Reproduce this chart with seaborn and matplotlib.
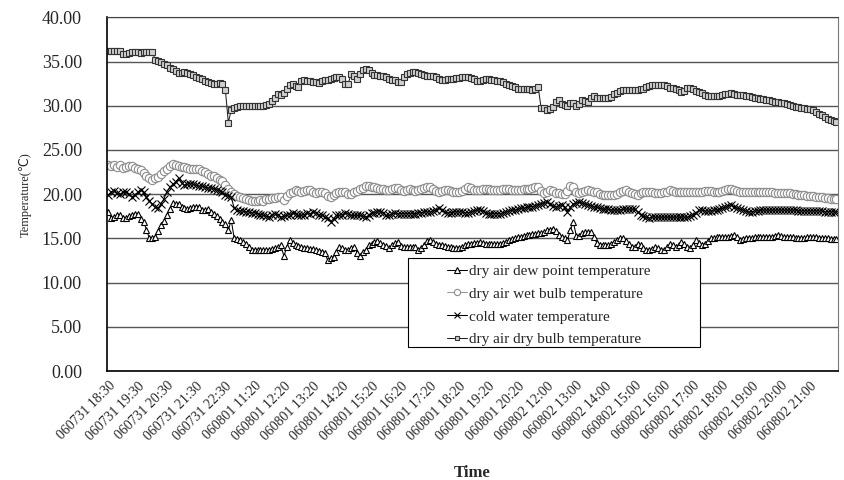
import numpy as np
import pandas as pd
import matplotlib
matplotlib.use("Agg")
import matplotlib.pyplot as plt
import seaborn as sns
from matplotlib.patches import Rectangle
from matplotlib.ticker import FixedLocator, FormatStrFormatter

# tick labels shown every 10 samples
tick_labels = [
    "060731 18:30", "060731 19:30", "060731 20:30", "060731 21:30", "060731 22:30",
    "060801 11:20", "060801 12:20", "060801 13:20", "060801 14:20", "060801 15:20",
    "060801 16:20", "060801 17:20", "060801 18:20", "060801 19:20", "060801 20:20",
    "060802 12:00", "060802 13:00", "060802 14:00", "060802 15:00", "060802 16:00",
    "060802 17:00", "060802 18:00", "060802 19:00", "060802 20:00", "060802 21:00",
]

# one row per label interval (10 samples each)
dew_point = [
    18.0, 17.3, 17.4, 17.6, 17.6, 17.3, 17.3, 17.5, 17.6, 17.8,
    17.8, 17.2, 16.9, 16.0, 15.0, 15.0, 15.2, 15.8, 16.5, 17.0,
    17.6, 18.3, 19.0, 18.9, 18.9, 18.6, 18.4, 18.3, 18.4, 18.5,
    18.6, 18.5, 18.2, 18.2, 18.3, 18.0, 17.8, 17.5, 17.2, 16.9,
    16.6, 15.9, 17.1, 15.0, 14.9, 14.8, 14.6, 14.4, 14.0, 13.7,
    13.7, 13.7, 13.7, 13.7, 13.7, 13.7, 13.8, 13.9, 14.0, 14.2,
    13.0, 14.0, 14.8, 14.5, 14.2, 14.1, 14.0, 13.9, 13.9, 13.8,
    13.8, 13.7, 13.6, 13.5, 13.4, 12.5, 12.8, 12.9, 13.5, 14.0,
    13.9, 13.7, 13.7, 13.9, 14.0, 13.4, 13.0, 13.5, 13.7, 14.2,
    14.4, 14.6, 14.7, 14.5, 14.2, 14.1, 13.9, 14.2, 14.5, 14.6,
    14.1, 14.0, 14.0, 14.0, 14.0, 14.0, 13.7, 13.9, 14.2, 14.7,
    14.8, 14.6, 14.4, 14.3, 14.2, 14.1, 14.0, 14.0, 13.9, 13.9,
    13.9, 14.0, 14.2, 14.4, 14.4, 14.5, 14.5, 14.6, 14.5, 14.4,
    14.4, 14.4, 14.4, 14.4, 14.4, 14.5, 14.6, 14.8, 14.9, 15.0,
    15.1, 15.2, 15.3, 15.4, 15.4, 15.5, 15.5, 15.6, 15.6, 15.7,
    15.9, 16.0, 16.1, 15.8, 15.4, 15.2, 15.0, 14.8, 15.9, 16.9,
    15.3, 15.3, 15.6, 15.7, 15.7, 15.7, 15.2, 14.5, 14.3, 14.2,
    14.2, 14.2, 14.4, 14.6, 14.8, 15.0, 15.0, 14.7, 14.4, 14.0,
    14.0, 14.4, 14.2, 13.9, 13.7, 13.7, 13.8, 14.0, 13.9, 13.7,
    13.7, 14.0, 14.4, 14.2, 14.0, 14.3, 14.6, 14.4, 14.0, 13.9,
    14.3, 14.8, 14.5, 14.2, 14.4, 14.7, 15.0, 15.0, 15.1, 15.1,
    15.1, 15.1, 15.2, 15.3, 15.4, 15.2, 14.8, 14.9, 15.0, 15.0,
    15.0, 15.1, 15.1, 15.1, 15.1, 15.1, 15.1, 15.2, 15.3, 15.4,
    15.3, 15.2, 15.1, 15.1, 15.1, 15.0, 15.0, 15.0, 15.0, 15.1,
    15.1, 15.1, 15.1, 15.0, 15.0, 15.0, 15.0, 14.9, 14.9, 14.9,
]

wet_bulb = [
    23.3, 23.2, 23.3, 23.1, 23.3, 23.0, 23.1, 23.2, 23.2, 23.0,
    22.9, 22.7, 22.4, 22.1, 21.8, 21.6, 21.8, 21.9, 22.3, 22.6,
    22.9, 23.2, 23.4, 23.3, 23.2, 23.1, 23.1, 23.0, 22.9, 22.9,
    22.8, 22.8, 22.6, 22.5, 22.3, 22.1, 22.0, 21.8, 21.6, 21.5,
    21.0, 20.6, 20.3, 20.0, 19.8, 19.7, 19.6, 19.4, 19.3, 19.2,
    19.2, 19.2, 19.3, 19.2, 19.4, 19.5, 19.6, 19.6, 19.7, 19.7,
    19.3, 19.8, 20.1, 20.3, 20.5, 20.4, 20.3, 20.4, 20.5, 20.5,
    20.3, 20.1, 20.2, 20.3, 20.1, 19.8, 19.7, 19.9, 20.1, 20.2,
    20.3, 20.2, 20.0, 20.0, 20.2, 20.4, 20.6, 20.7, 20.9, 20.9,
    20.8, 20.8, 20.7, 20.6, 20.6, 20.5, 20.5, 20.6, 20.7, 20.7,
    20.5, 20.4, 20.5, 20.6, 20.5, 20.4, 20.5, 20.6, 20.7, 20.8,
    20.8, 20.6, 20.4, 20.3, 20.4, 20.5, 20.5, 20.4, 20.3, 20.3,
    20.3, 20.4, 20.6, 20.8, 20.7, 20.5, 20.5, 20.5, 20.6, 20.6,
    20.6, 20.5, 20.5, 20.5, 20.5, 20.6, 20.6, 20.6, 20.5, 20.5,
    20.5, 20.5, 20.6, 20.6, 20.6, 20.7, 20.8, 20.8, 20.4, 20.1,
    20.3, 20.5, 20.4, 20.1, 20.1, 20.0, 20.0, 20.4, 20.9, 20.8,
    20.3, 20.1, 20.2, 20.4, 20.5, 20.4, 20.3, 20.2, 20.0, 19.9,
    19.9, 19.9, 19.9, 19.9, 20.0, 20.2, 20.4, 20.5, 20.3, 20.1,
    20.0, 19.9, 20.1, 20.2, 20.3, 20.3, 20.2, 20.1, 20.1, 20.1,
    20.2, 20.3, 20.5, 20.4, 20.3, 20.2, 20.2, 20.3, 20.3, 20.3,
    20.3, 20.3, 20.3, 20.3, 20.4, 20.4, 20.4, 20.3, 20.3, 20.3,
    20.4, 20.5, 20.6, 20.6, 20.5, 20.4, 20.3, 20.3, 20.2, 20.2,
    20.2, 20.2, 20.3, 20.3, 20.3, 20.2, 20.2, 20.2, 20.1, 20.1,
    20.1, 20.1, 20.1, 20.1, 20.0, 20.0, 19.9, 19.9, 19.9, 19.8,
    19.8, 19.8, 19.7, 19.7, 19.7, 19.6, 19.6, 19.5, 19.5, 19.5,
]

cold_water = [
    19.9, 20.3, 20.4, 20.1, 20.0, 20.2, 20.2, 20.0, 19.7, 19.9,
    20.2, 20.5, 20.2, 19.7, 19.2, 18.9, 18.5, 18.4, 18.9, 19.5,
    20.3, 20.8, 21.1, 21.4, 21.8, 21.3, 21.0, 21.1, 21.2, 21.1,
    21.0, 20.9, 20.9, 20.8, 20.7, 20.7, 20.6, 20.5, 20.4, 20.2,
    19.9, 19.8, 19.7, 18.4, 18.2, 18.1, 18.1, 18.0, 18.0, 17.9,
    17.9, 17.8, 17.7, 17.6, 17.5, 17.4, 17.7, 17.8, 17.6, 17.4,
    17.5, 17.6, 17.7, 17.9, 17.8, 17.6, 17.6, 17.7, 17.9, 17.8,
    18.0, 17.9, 17.7, 17.6, 17.4, 17.3, 16.9, 17.2, 17.6, 17.6,
    17.7, 17.9, 17.8, 17.6, 17.6, 17.6, 17.6, 17.5, 17.4, 17.6,
    17.9, 17.9, 18.0, 18.0, 17.9, 17.6, 17.6, 17.8, 17.9, 17.8,
    17.8, 17.8, 17.8, 17.8, 17.8, 17.8, 17.9, 17.9, 18.0, 18.0,
    18.0, 18.1, 18.2, 18.4, 18.2, 18.0, 17.9, 17.9, 18.0, 18.0,
    18.0, 18.0, 17.9, 17.9, 18.0, 18.1, 18.2, 18.2, 18.1, 17.9,
    17.8, 17.8, 17.8, 17.8, 17.8, 17.9, 18.0, 18.1, 18.2, 18.2,
    18.3, 18.4, 18.4, 18.5, 18.6, 18.6, 18.7, 18.8, 18.9, 19.0,
    19.1, 18.9, 18.7, 18.6, 18.7, 18.8, 18.5, 18.0, 18.5, 18.9,
    19.0, 19.1, 19.0, 18.9, 18.8, 18.7, 18.6, 18.5, 18.4, 18.3,
    18.3, 18.3, 18.2, 18.2, 18.2, 18.2, 18.3, 18.3, 18.3, 18.3,
    18.3, 18.0, 17.7, 17.5, 17.4, 17.3, 17.4, 17.4, 17.4, 17.4,
    17.4, 17.4, 17.4, 17.4, 17.4, 17.4, 17.4, 17.4, 17.4, 17.5,
    17.7, 17.9, 18.2, 18.2, 18.1, 18.1, 18.1, 18.2, 18.2, 18.3,
    18.4, 18.5, 18.7, 18.8, 18.6, 18.4, 18.3, 18.2, 18.1, 18.0,
    18.0, 18.1, 18.1, 18.2, 18.2, 18.2, 18.2, 18.2, 18.2, 18.2,
    18.2, 18.2, 18.2, 18.2, 18.2, 18.2, 18.1, 18.1, 18.1, 18.1,
    18.1, 18.1, 18.1, 18.1, 18.1, 18.0, 18.0, 18.0, 18.0, 18.0,
]

dry_bulb = [
    36.2, 36.2, 36.2, 36.2, 36.2, 35.9, 35.9, 36.0, 36.1, 36.1,
    36.1, 36.0, 36.1, 36.1, 36.1, 36.1, 35.2, 35.1, 34.9, 34.7,
    34.6, 34.3, 34.1, 33.9, 33.7, 33.7, 33.8, 33.7, 33.6, 33.5,
    33.3, 33.1, 33.0, 32.8, 32.7, 32.6, 32.5, 32.5, 32.6, 32.4,
    31.8, 28.1, 29.5, 29.7, 29.9, 30.0, 30.0, 30.0, 30.0, 30.0,
    30.0, 30.0, 30.0, 30.0, 30.1, 30.2, 30.5, 30.9, 31.3, 31.2,
    31.4, 31.9, 32.3, 32.5, 32.2, 32.1, 32.8, 32.9, 32.8, 32.8,
    32.7, 32.7, 32.6, 32.8, 32.9, 32.9, 33.0, 33.1, 33.3, 33.2,
    33.0, 32.5, 32.5, 33.6, 33.4, 33.0, 33.6, 34.0, 34.2, 34.0,
    33.7, 33.5, 33.5, 33.4, 33.4, 33.2, 33.0, 32.9, 32.9, 32.7,
    32.7, 33.2, 33.6, 33.7, 33.8, 33.8, 33.7, 33.6, 33.5, 33.4,
    33.4, 33.4, 33.2, 33.0, 32.9, 32.9, 33.0, 33.0, 33.0, 33.1,
    33.1, 33.2, 33.3, 33.3, 33.1, 33.0, 32.8, 32.8, 32.9, 33.0,
    33.0, 32.9, 32.9, 32.8, 32.8, 32.7, 32.5, 32.3, 32.2, 32.1,
    31.9, 31.9, 31.9, 31.9, 31.9, 31.8, 31.9, 32.1, 29.7, 29.7,
    29.5, 29.6, 29.9, 30.4, 30.6, 30.2, 30.1, 30.0, 30.3, 30.3,
    30.0, 30.2, 30.6, 30.5, 30.4, 30.9, 31.1, 30.9, 30.9, 30.9,
    30.9, 30.9, 31.0, 31.3, 31.4, 31.7, 31.8, 31.8, 31.8, 31.8,
    31.8, 31.8, 31.9, 31.9, 32.1, 32.2, 32.3, 32.3, 32.3, 32.3,
    32.3, 32.2, 32.0, 32.0, 31.9, 31.8, 31.6, 31.7, 32.0, 32.0,
    31.9, 31.7, 31.5, 31.4, 31.2, 31.1, 31.1, 31.1, 31.1, 31.1,
    31.2, 31.3, 31.3, 31.4, 31.3, 31.2, 31.2, 31.2, 31.1, 31.1,
    31.0, 30.9, 30.9, 30.8, 30.8, 30.7, 30.6, 30.5, 30.4, 30.4,
    30.3, 30.3, 30.2, 30.1, 30.0, 29.9, 29.8, 29.7, 29.7, 29.6,
    29.6, 29.5, 29.3, 29.1, 28.9, 28.7, 28.5, 28.4, 28.3, 28.2,
]

series_names = [
    "dry air dew point temperature",
    "dry air wet bulb temperature",
    "cold water temperature",
    "dry air dry bulb temperature",
]

sns.set_style("white")
plt.rcParams["font.family"] = ["Liberation Serif", "DejaVu Sans"]

n = len(dry_bulb)
frames = []
for name, vals in zip(series_names, [dew_point, wet_bulb, cold_water, dry_bulb]):
    frames.append(pd.DataFrame({"idx": np.arange(n), "temp": vals, "series": name}))
df = pd.concat(frames, ignore_index=True)

# line colour, marker, marker edge, marker face, marker size
styles = {
    series_names[0]: ("black", "^", "black", "white", 5),
    series_names[1]: ("#9a9a9a", "o", "#8c8c8c", "white", 6),
    series_names[2]: ("black", "x", "black", "none", 6),
    series_names[3]: ("#222222", "s", "#333333", "#d0d0d0", 4.8),
}

fig = plt.figure(figsize=(8.45, 4.80), dpi=100)
ax = fig.add_axes([0.1266, 0.227, 0.865, 0.737])

for name in series_names:
    col, mk, mec, mfc, ms = styles[name]
    sns.lineplot(data=df[df["series"] == name], x="idx", y="temp", ax=ax,
                 color=col, marker=mk, markeredgecolor=mec, markerfacecolor=mfc,
                 markersize=ms, markeredgewidth=0.8, linewidth=0.75, label=name)

ax.set_xlim(-0.5, n - 0.5)
ax.set_ylim(0, 40)
ax.set_yticks(np.arange(0, 41, 5))
ax.yaxis.set_major_formatter(FormatStrFormatter("%.2f"))
ax.grid(axis="y", color="#555555", linewidth=1.0)
ax.grid(axis="x", visible=False)
ax.set_axisbelow(True)

ax.set_xticks(np.arange(0, n, 10))
ax.set_xticklabels(tick_labels, rotation=45, ha="right", rotation_mode="anchor", fontsize=10)
ax.xaxis.set_minor_locator(FixedLocator(np.arange(-0.5, n, 1)))
ax.tick_params(axis="x", which="major", length=0, pad=6)
ax.tick_params(axis="x", which="minor", length=3, width=0.8, direction="out", color="#333333")
ax.tick_params(axis="y", labelsize=13, length=0, pad=18)

for side in ["left", "bottom"]:
    ax.spines[side].set_color("black")
    ax.spines[side].set_linewidth(1.2)
ax.spines["right"].set_color("#777777")
ax.spines["top"].set_color("#444444")

ax.set_xlabel("Time", fontsize=12, fontweight="bold", labelpad=16)
ax.set_ylabel("Temperature(℃)", fontsize=9, labelpad=7)

# white legend box, wider than its entries
ax.add_patch(Rectangle((0.412, 0.068), 0.40, 0.252, transform=ax.transAxes,
                       facecolor="white", edgecolor="black", linewidth=0.8, zorder=4))
leg = ax.legend(loc="upper left", bbox_to_anchor=(0.465, 0.302), frameon=False,
                fontsize=11, handlelength=1.3, handletextpad=0.15, labelspacing=0.6,
                borderpad=0, borderaxespad=0, markerscale=0.75)
leg.set_zorder(5)

fig.savefig("out.png", dpi=100)
